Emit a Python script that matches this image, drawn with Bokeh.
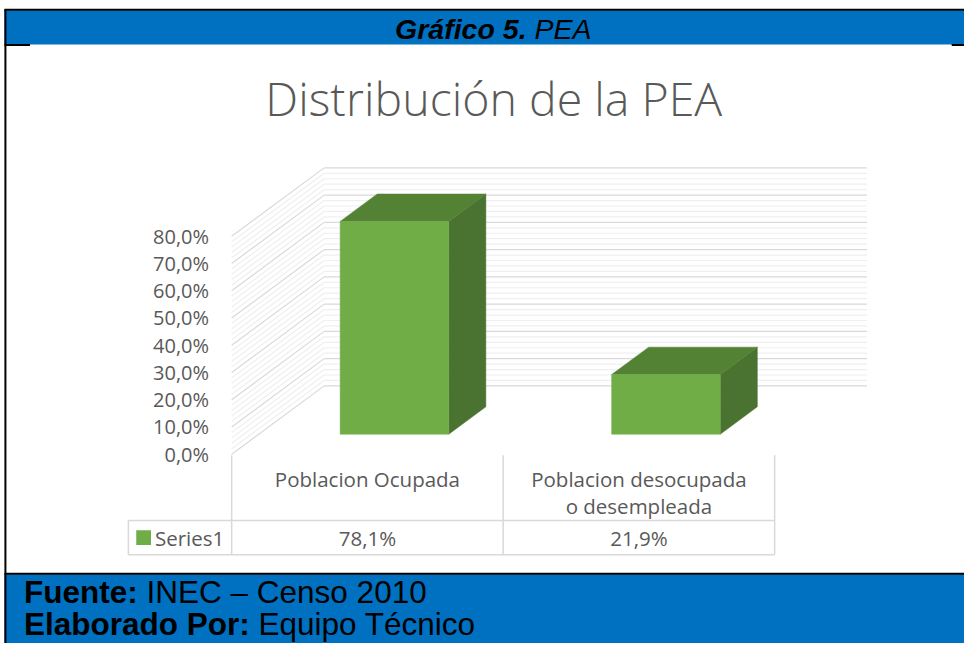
from bokeh.plotting import figure
from bokeh.models import Range1d
from bokeh.core.properties import value
from bokeh.embed import file_html
from bokeh.resources import INLINE

# ---------------- data ----------------
categories = ["Poblacion Ocupada", "Poblacion desocupada\no desempleada"]
series_name = "Series1"
values = [78.1, 21.9]
value_labels = ["78,1%", "21,9%"]
y_ticks = [0, 10, 20, 30, 40, 50, 60, 70, 80]
y_tick_labels = ["0,0%", "10,0%", "20,0%", "30,0%", "40,0%", "50,0%", "60,0%", "70,0%", "80,0%"]
chart_title = "Distribución de la PEA"
header_bold = "Gráfico 5."
header_rest = "PEA"
footer_bold = ["Fuente:", "Elaborado Por:"]
footer_rest = ["INEC – Censo 2010", "Equipo Técnico"]

# ---------------- layout / style ----------------
W, H = 964, 643
RW, RH = 980, 659             # reference canvas, used as the figure's coordinate system
BLUE = "#0070C0"
GREEN = "#70AD47"
GREEN_TOP = "#548235"
GREEN_SIDE = "#4A7230"
TXT = "#595959"
GRID_MAJOR = "#D9D9D9"
GRID_MINOR = "#EFEFEF"
TABLE_LINE = "#D9D9D9"
CHART_FONT = value("Open Sans")
DOC_FONT = value("Liberation Sans")

X0, CW = 373.0, 276.0          # x of category 0 centre, units per category (front plane)
Y0, S = 465.0, 2.793           # y of 0 % (front plane), units per percent
K = 0.745                      # depth direction dy/dx
D_FRONT, D_BACK, D_WALL = 27.5, 65.2, 94.0
BAR_W = 0.4


def depth(dpx):
    return dpx / CW, dpx * K / S


p = figure(width=W, height=H, x_range=Range1d(0, RW), y_range=Range1d(RH, 0),
           output_backend="svg", toolbar_location=None, min_border=0,
           x_axis_type=None, y_axis_type=None)
p.outline_line_color = None
p.background_fill_color = "white"
p.border_fill_color = "white"
p.extra_x_ranges = {"cx": Range1d((0 - X0) / CW, (RW - X0) / CW)}
p.extra_y_ranges = {"py": Range1d((Y0 - RH) / S, (Y0 - 0) / S)}

# ---------------- document frame ----------------
p.quad(left=[4, 4], right=[RW, RW], top=[10, 588], bottom=[45, RH + 2],
       fill_color=BLUE, line_color=None)
p.segment(x0=[4, 4, 5, 4, 967], y0=[9.5, 587.5, 9, 45.5, 45.5],
          x1=[RW, RW, 5, 30, RW], y1=[9.5, 587.5, RH + 2, 45.5, 45.5],
          line_color="black", line_width=2)

hsize = 28.5
hsplit = 534.8
p.text(x=[hsplit], y=[29], text=[header_bold], text_font=DOC_FONT, text_font_size=f"{hsize}px",
       text_font_style="bold italic", text_align="right", text_baseline="middle",
       text_color="black")
p.text(x=[hsplit + 0.278 * 29], y=[29], text=[header_rest], text_font=DOC_FONT,
       text_font_size=f"{hsize}px", text_font_style="italic", text_align="left",
       text_baseline="middle", text_color="black")

fsize = 32
splits = [24 + 3.611 * fsize, 24 + 7.168 * fsize]
rest_x = [s + 0.278 * fsize for s in splits]
mids = [606, 639.5]
p.text(x=splits, y=mids, text=footer_bold, text_font=DOC_FONT, text_font_size="31.5px",
       text_font_style="bold", text_align="right", text_baseline="middle", text_color="black")
p.text(x=rest_x, y=mids, text=footer_rest, text_font=DOC_FONT, text_font_size="31.5px",
       text_align="left", text_baseline="middle", text_color="black")

# ---------------- chart title ----------------
p.text(x=[501.5], y=[99.5], text=[chart_title], text_font=value("Open Sans Light"),
       text_font_size="46.5px", text_color=TXT, text_align="center", text_baseline="middle")

# ---------------- walls ----------------
n = len(categories)
left_c, right_c = -0.5, n - 0.5
wdx, wdy = depth(D_WALL)
top_tick = y_ticks[-1]
minor = [k for k in range(0, top_tick + 1, 2) if k % 10]
for levels, col in ((minor, GRID_MINOR), (y_ticks, GRID_MAJOR)):
    xs = [[left_c + wdx, right_c + wdx] for _ in levels] + [[left_c, left_c + wdx] for _ in levels]
    ys = [[k + wdy, k + wdy] for k in levels] + [[k, k + wdy] for k in levels]
    p.multi_line(xs=xs, ys=ys, line_color=col, line_width=1.2,
                 x_range_name="cx", y_range_name="py")

# ---------------- 3D bars ----------------
fdx, fdy = depth(D_FRONT)
bdx, bdy = depth(D_BACK)
front_x, side_xs, side_ys, top_xs, top_ys = [], [], [], [], []
for i, v in enumerate(values):
    xl_f, xr_f = i + fdx - BAR_W / 2, i + fdx + BAR_W / 2
    xl_b, xr_b = i + bdx - BAR_W / 2, i + bdx + BAR_W / 2
    front_x.append(i + fdx)
    side_xs.append([xr_f, xr_f, xr_b, xr_b])
    side_ys.append([fdy, v + fdy, v + bdy, bdy])
    top_xs.append([xl_f, xr_f, xr_b, xl_b])
    top_ys.append([v + fdy, v + fdy, v + bdy, v + bdy])

p.patches(xs=side_xs, ys=side_ys, fill_color=GREEN_SIDE, line_color=GREEN_SIDE, line_width=0.5,
          x_range_name="cx", y_range_name="py")
p.patches(xs=top_xs, ys=top_ys, fill_color=GREEN_TOP, line_color=GREEN_TOP, line_width=0.5,
          x_range_name="cx", y_range_name="py")
p.vbar(x=front_x, width=BAR_W, bottom=fdy, top=[v + fdy for v in values],
       fill_color=GREEN, line_color=GREEN, line_width=0.5,
       x_range_name="cx", y_range_name="py")

# ---------------- y tick labels ----------------
p.text(x=[212] * len(y_ticks), y=y_ticks, text=y_tick_labels, text_font=CHART_FONT,
       text_font_size="20px", text_color=TXT, text_align="right", text_baseline="middle",
       y_range_name="py")

# ---------------- data table ----------------
bounds = [i - 0.5 for i in range(n + 1)]
p.segment(x0=bounds, y0=[466] * len(bounds), x1=bounds, y1=[568] * len(bounds),
          line_color=TABLE_LINE, line_width=1.5, x_range_name="cx")
tbl_right = X0 + CW * (n - 0.5)
p.segment(x0=[130, 130, 130], y0=[533, 568, 533], x1=[tbl_right, tbl_right, 130], y1=[533, 568, 568],
          line_color=TABLE_LINE, line_width=1.5)

lx, ly, lt = [], [], []
for i, c in enumerate(categories):
    for j, line in enumerate(c.split("\n")):
        lx.append(i)
        ly.append(490 + 28 * j)
        lt.append(line)
p.text(x=lx, y=ly, text=lt, text_font=CHART_FONT, text_font_size="20.5px", text_color=TXT,
       text_align="center", text_baseline="middle", x_range_name="cx")
p.text(x=list(range(n)), y=[551] * n, text=value_labels, text_font=CHART_FONT,
       text_font_size="20.5px", text_color=TXT, text_align="center", text_baseline="middle",
       x_range_name="cx")

p.quad(left=[138], right=[153], top=[543], bottom=[558], fill_color=GREEN, line_color=None)
p.text(x=[157], y=[551], text=[series_name], text_font=CHART_FONT, text_font_size="20.5px",
       text_color=TXT, text_align="left", text_baseline="middle")

open("out.html", "w").write(file_html(p, INLINE))
